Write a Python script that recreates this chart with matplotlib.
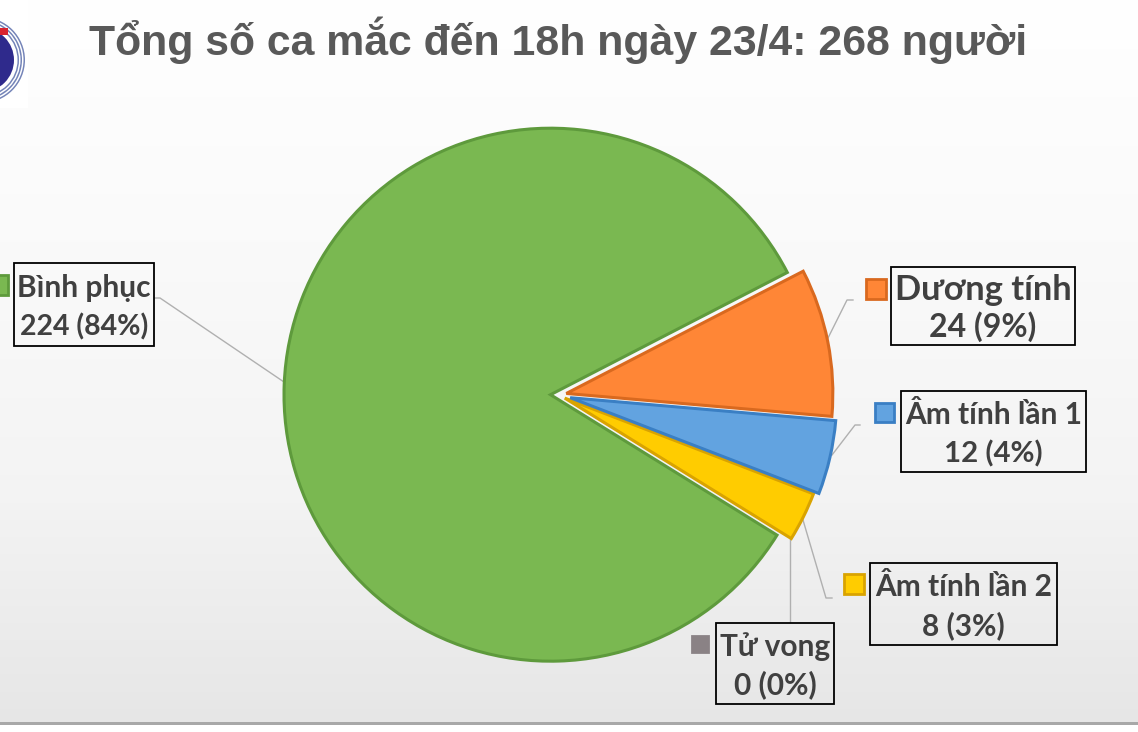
import numpy as np
import matplotlib
matplotlib.use('Agg')
import matplotlib.pyplot as plt
from matplotlib.patches import Rectangle, Circle

title = 'Tổng số ca mắc đến 18h ngày 23/4: 268 người'
categories = ['Dương tính', 'Âm tính lần 1', 'Âm tính lần 2', 'Tử vong', 'Bình phục']
values = [24, 12, 8, 0, 224]
percents = ['9%', '4%', '3%', '0%', '84%']
fills = ['#FF8636', '#62A3E0', '#FFCC00', '#8A8285', '#7AB851']
edges = ['#D9691F', '#3A7FC4', '#D9A300', '#8A8285', '#5E9A3C']

H = 732
fig = plt.figure(figsize=(11.38, 7.32), dpi=100)
ax = fig.add_axes([0, 0, 1, 1])


def py(y):
    return H - y


# background gradient, top of the slide down to the bottom edge
grad = np.interp(np.arange(H), [0, 250, 500, 722], [1.0, 0.98, 0.955, 0.905])
grad = np.dstack([grad] * 3).reshape(H, 1, 3)
ax.imshow(grad, extent=(0, 1138, py(722), py(0)), aspect='auto', zorder=0)
ax.add_patch(Rectangle((0, py(725)), 1138, 3, fc='#a8a8a8', ec='none', zorder=1))

# logo cut off by the left edge
ax.add_patch(Rectangle((0, py(108)), 28, 108, fc='white', ec='none', zorder=1))
logo_center = (-18, py(60))
for r, c in [(43, '#7484b8'), (41.5, 'white'), (40, '#7484b8'), (38.5, 'white'), (37, '#7484b8'), (35.5, 'white'), (32, '#2f2a8c')]:
    ax.add_patch(Circle(logo_center, r, fc=c, ec='none', zorder=2))
ax.add_patch(Rectangle((0, py(35)), 8, 7, fc='#d8232f', ec='none', zorder=3))

wedges, _ = ax.pie(values, explode=[8, 12, 7, 8, 8], startangle=27.3, counterclock=False,
                   colors=fills, center=(558.5, py(395)), radius=266.5, frame=True,
                   wedgeprops=dict(linewidth=2.2))
for w, e, z in zip(wedges, edges, [4, 5, 4, 4, 4]):
    w.set_edgecolor(e)
    w.set_zorder(z)
wedges[3].set_visible(False)

# leader lines
leaders = [
    ([853, 847, 827], [300, 300, 340]),
    ([860, 855, 832], [425, 425, 455]),
    ([832, 826, 803], [598, 598, 520]),
    ([790, 790], [622, 538]),
    ([155, 160, 284], [298, 298, 382]),
]
for xs, ys in leaders:
    ax.plot(xs, [py(y) for y in ys], color='#b0b0b0', lw=1, zorder=3)

# label box: left, top, right, bottom, first line y, second line y, sizes
boxes = [
    (891, 267, 1075, 345, 290, 327, 24.8, 23),
    (901, 391, 1086, 472, 414.5, 454, 21.5, 21.2),
    (870, 563, 1057, 645, 586.5, 626, 21.5, 21.5),
    (716, 623, 834, 704, 646.5, 685, 21.5, 21.5),
    (14, 263, 154, 346, 287.5, 327, 21.5, 20.5),
]
swatches = [
    (866, 279, 20),
    (875, 403, 19),
    (844, 574, 20),
    (692, 636, 16),
    (-12, 275, 20),
]
for i, name in enumerate(categories):
    x0, y0, x1, y1, t1, t2, fs1, fs2 = boxes[i]
    ax.add_patch(Rectangle((x0, py(y1)), x1 - x0, y1 - y0, fc='none', ec='black', lw=1.3, zorder=6))
    xc = (x0 + x1) / 2
    ax.text(xc, py(t1), name, ha='center', va='center', fontsize=fs1, fontfamily='Lato',
            fontweight='bold', color='#404040', zorder=7)
    ax.text(xc, py(t2), f'{values[i]} ({percents[i]})', ha='center', va='center', fontsize=fs2,
            fontfamily='Lato', fontweight='bold', color='#404040', zorder=7)
    sx, sy, s = swatches[i]
    ax.add_patch(Rectangle((sx, py(sy + s)), s, s, fc=fills[i], ec=edges[i], lw=2, zorder=6))

ax.text(558, py(40), title, ha='center', va='center', fontsize=30.75, fontfamily='Liberation Sans',
        fontweight='bold', color='#595959', zorder=7)

ax.set_xlim(0, 1138)
ax.set_ylim(0, H)
ax.axis('off')
fig.savefig('out.png', dpi=100)
